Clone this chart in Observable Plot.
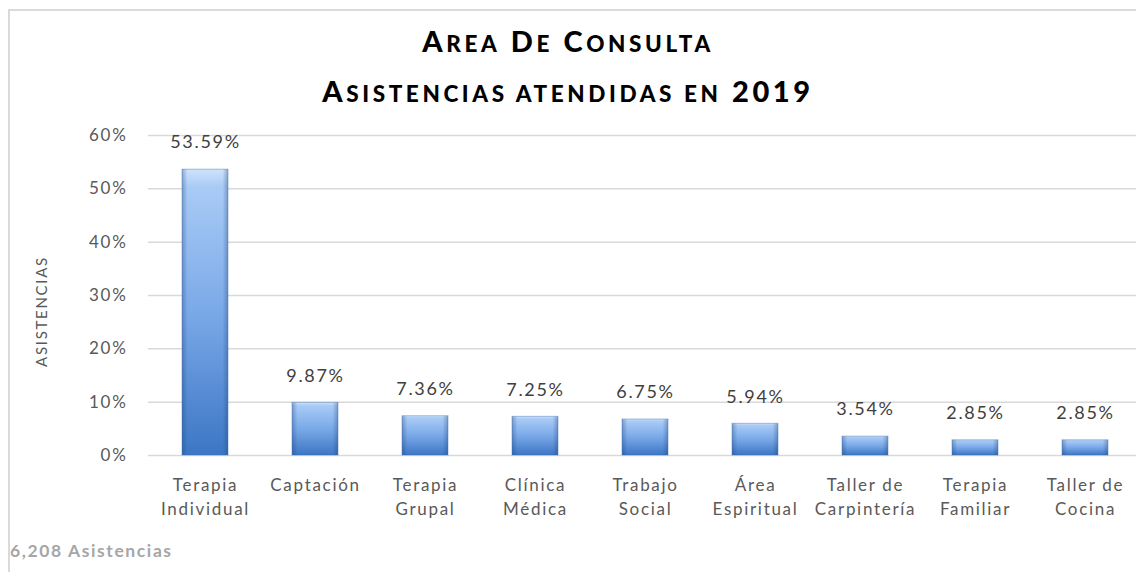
<!DOCTYPE html>
<html>
<head>
<meta charset="utf-8">
<script src="https://cdn.jsdelivr.net/npm/d3@7"></script>
<script src="https://cdn.jsdelivr.net/npm/@observablehq/plot@0.6"></script>
<style>
  body { margin: 0; background: #fff; }
  #frame { position: absolute; left: 8px; top: 9px; width: 1200px; height: 700px; z-index: 5; pointer-events: none;
           border-left: 2px solid #dadada; border-top: 2px solid #dadada; }
  #wrap { position: relative; width: 1136px; height: 572px; overflow: hidden; background: #fff; }
  #title { height: 120px; box-sizing: border-box; padding-top: 17px; text-align: center;
           font-family: Lato, "Open Sans", sans-serif; font-weight: 900; font-size: 29px;
           letter-spacing: 3.6px; line-height: 47px; color: #000; }
  #title .s { font-size: 22.5px; text-transform: uppercase; }
  #chart svg { display: block; }
  #caption { padding: 0 0 0 10px; font-family: Lato, sans-serif; font-weight: bold;
             font-size: 17.5px; letter-spacing: 1.6px; color: #a6a6a6; }
</style>
</head>
<body>
<div id="wrap">
  <div id="frame"></div>
  <div id="title" style="position:relative"><span class="b">A</span><span class="s">rea</span> <span class="b">D</span><span class="s">e</span> <span class="b">C</span><span class="s">onsulta</span><br><span class="b">A</span><span class="s">sistencias atendidas en</span> <span class="b">2019</span></div>
  <div id="chart" style="position:relative"></div>
  <div id="caption" style="position:relative">6,208 Asistencias</div>
</div>
<script>
const categories = ["Terapia\nIndividual", "Captación", "Terapia\nGrupal", "Clínica\nMédica", "Trabajo\nSocial", "Área\nEspiritual", "Taller de\nCarpintería", "Terapia\nFamiliar", "Taller de\nCocina"];
const values = [53.59, 9.87, 7.36, 7.25, 6.75, 5.94, 3.54, 2.85, 2.85];
const yTicks = [0, 10, 20, 30, 40, 50, 60];
const yLabel = "ASISTENCIAS";

const data = categories.map((c, i) => ({cat: c, value: values[i]}));

const svg = Plot.plot({
  width: 1136,
  height: 420,
  marginLeft: 148,
  marginRight: 0,
  marginTop: 15,
  marginBottom: 85,
  style: {fontFamily: "Lato, 'Open Sans', sans-serif", background: "transparent", overflow: "visible", letterSpacing: "1.7px"},
  x: {type: "band", domain: categories, range: [150, 1140], paddingInner: 0.58, paddingOuter: 0.29, axis: null},
  y: {domain: [0, 60], axis: null},
  marks: [
    Plot.ruleY(yTicks, {stroke: "#d9d9d9", strokeWidth: 1.5}),
    Plot.barY(data, {x: "cat", y: "value", fill: "url(#vgrad)"}),
    Plot.barY(data, {x: "cat", y: "value", fill: "url(#hgrad)", stroke: "#3f6fb0", strokeOpacity: 0.45, strokeWidth: 1}),
    Plot.text(data, {x: "cat", y: "value", text: d => d.value.toFixed(2) + "%", dy: -27, fontSize: 18, fill: "#404040"}),
    Plot.axisY(yTicks, {tickSize: 0, tickPadding: 21, tickFormat: d => d + "%", fontSize: 17, fill: "#595959", label: null}),
    Plot.axisX({tickSize: 0, tickPadding: 18, fontSize: 17, lineHeight: 1.42, fill: "#595959", label: null}),
    Plot.text([yLabel], {frameAnchor: "left", textAnchor: "middle", dx: -106, dy: 16, rotate: -90, fontSize: 15, fill: "#595959"})
  ]
});

const defs = d3.select(svg).insert("defs", ":first-child");
const vg = defs.append("linearGradient").attr("id", "vgrad").attr("x1", 0).attr("y1", 0).attr("x2", 0).attr("y2", 1);
[["0", "#cfe3fb"], ["0.06", "#a9cbf6"], ["0.5", "#7aa9e8"], ["1", "#3c76c4"]].forEach(([o, c]) =>
  vg.append("stop").attr("offset", o).attr("stop-color", c));
const hg = defs.append("linearGradient").attr("id", "hgrad").attr("x1", 0).attr("y1", 0).attr("x2", 1).attr("y2", 0);
[["0", "#1d3f7a", 0.35], ["0.12", "#1d3f7a", 0.0], ["0.88", "#1d3f7a", 0.0], ["1", "#1d3f7a", 0.35]].forEach(([o, c, a]) =>
  hg.append("stop").attr("offset", o).attr("stop-color", c).attr("stop-opacity", a));

document.getElementById("chart").append(svg);
</script>
</body>
</html>
